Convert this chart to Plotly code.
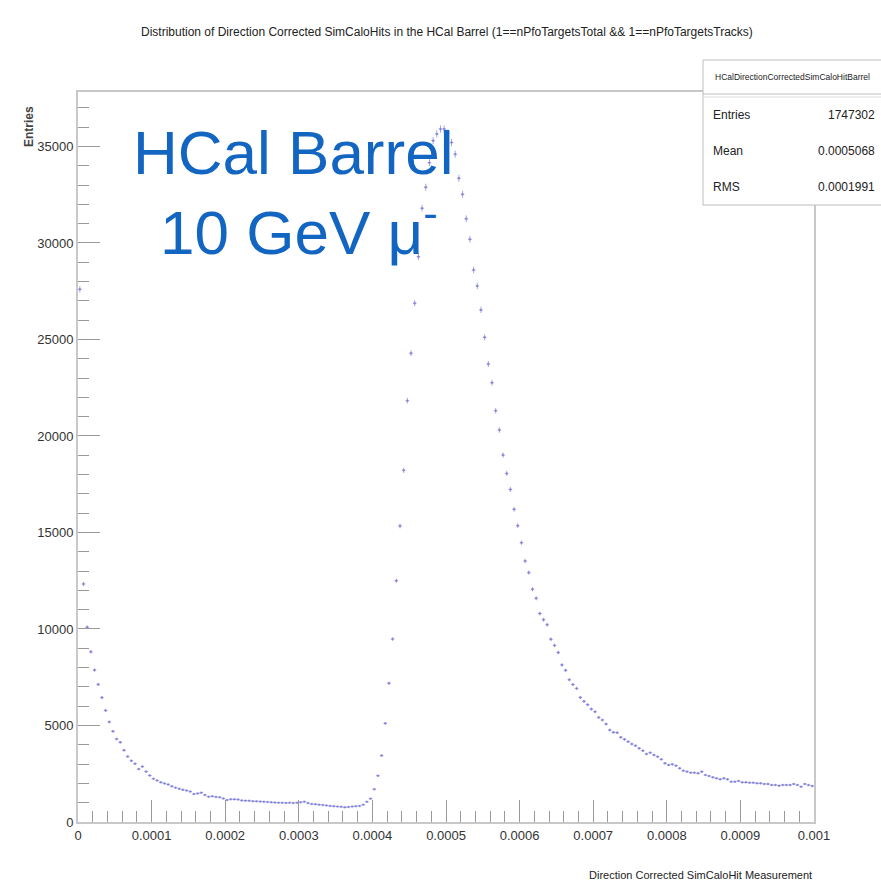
import numpy as np
import plotly.graph_objects as go

# ---------------- data ----------------
bin_low = 0.0
bin_high = 0.001
n_bins = 200

counts = [
    27600, 12330, 10090, 8815, 7870, 7130, 6445, 5780, 5185, 4700,
    4300, 4130, 3720, 3390, 3170, 3020, 2740, 2870, 2610, 2410,
    2240, 2150, 2055, 2000, 1945, 1850, 1780, 1720, 1670, 1630,
    1575, 1450, 1480, 1520, 1400, 1310, 1330, 1300, 1280, 1220,
    1140, 1180, 1175, 1160, 1120, 1105, 1100, 1080, 1070, 1060,
    1055, 1040, 1020, 1010, 1000, 995, 990, 1000, 985, 1000,
    1020, 1055, 980, 930, 920, 900, 880, 860, 830, 820,
    800, 790, 760, 780, 800, 820, 830, 900, 1050, 1210,
    1700, 2400, 3440, 5110, 7190, 9480, 12500, 15340, 18220, 21830,
    24290, 26880, 29290, 31800, 32890, 34160, 35300, 35650, 35900, 35900,
    35700, 35200, 34600, 33350, 32520, 31250, 30190, 28600, 27770, 26530,
    25110, 23730, 22760, 21310, 20310, 19010, 18060, 17230, 16200, 15350,
    14470, 13520, 12920, 12060, 11590, 10800, 10480, 10220, 9470, 9150,
    8780, 8140, 7860, 7370, 7120, 6920, 6455, 6250, 6080, 5850,
    5715, 5420, 5285, 5075, 4765, 4645, 4628, 4387, 4283, 4162,
    4041, 3955, 3817, 3696, 3523, 3593, 3471, 3385, 3247, 3040,
    2953, 2988, 2919, 2781, 2660, 2608, 2556, 2556, 2522, 2608,
    2435, 2383, 2314, 2262, 2210, 2262, 2210, 2089, 2089, 2124,
    2055, 2055, 2038, 2038, 2003, 2003, 1969, 1969, 1917, 1917,
    1883, 1917, 1917, 1917, 1969, 1917, 1831, 1969, 1917, 1865,
]
assert len(counts) == n_bins

x_tick_vals = [0, 0.0001, 0.0002, 0.0003, 0.0004, 0.0005, 0.0006, 0.0007, 0.0008, 0.0009, 0.001]
x_tick_text = ["0", "0.0001", "0.0002", "0.0003", "0.0004", "0.0005", "0.0006", "0.0007", "0.0008", "0.0009", "0.001"]
y_tick_vals = [0, 5000, 10000, 15000, 20000, 25000, 30000, 35000]
y_tick_text = ["0", "5000", "10000", "15000", "20000", "25000", "30000", "35000"]

title_text = "Distribution of Direction Corrected SimCaloHits in the HCal Barrel (1==nPfoTargetsTotal && 1==nPfoTargetsTracks)"
x_title = "Direction Corrected SimCaloHit Measurement"
y_title = "Entries"
stats_name = "HCalDirectionCorrectedSimCaloHitBarrel"
stats_labels = ["Entries", "Mean", "RMS"]
stats_values = ["1747302", "0.0005068", "0.0001991"]
label_line1 = "HCal Barrel"
label_line2 = "10 GeV μ<sup>-</sup>"

# ---------------- figure ----------------
bw = (bin_high - bin_low) / n_bins
centers = bin_low + bw * (np.arange(n_bins) + 0.5)

W_FIG, H_FIG = 881, 890
L, R, T, B = 78, 814, 92, 822
PW, PH = R - L, B - T


def px(x):
    return (x - L) / PW


def py(y):
    return (B - y) / PH


FONT = "Liberation Sans, Arial, Helvetica, sans-serif"
PTCOL = "rgba(120,120,215,0.65)"

fig = go.Figure()
fig.add_trace(go.Scatter(
    x=centers, y=counts, mode="markers",
    marker=dict(size=2.5, color=PTCOL),
    error_y=dict(type="sqrt", color=PTCOL, thickness=1, width=0),
    error_x=dict(type="constant", value=bw / 2, color=PTCOL, thickness=1, width=0),
    showlegend=False, hoverinfo="x+y",
))

axis_common = dict(
    showgrid=False, zeroline=False,
    showline=True, linecolor="#c8c8c8", linewidth=2, mirror=True,
    ticks="inside", ticklen=22, tickcolor="#9a9a9a", tickwidth=1,
    tickfont=dict(family=FONT, size=13, color="#333333"),
)

fig.update_xaxes(
    range=[bin_low, bin_high],
    tickvals=x_tick_vals, ticktext=x_tick_text,
    minor=dict(dtick=0.00002, ticklen=11, tickcolor="#9a9a9a", ticks="inside", showgrid=False),
    **axis_common,
)
fig.update_yaxes(
    range=[0, 37820],
    tickvals=y_tick_vals, ticktext=y_tick_text,
    minor=dict(dtick=1000, ticklen=11, tickcolor="#9a9a9a", ticks="inside", showgrid=False),
    **axis_common,
)

shapes = []
# stats box
shapes.append(dict(type="rect", xref="paper", yref="paper",
                   x0=px(703), x1=px(886), y0=py(205), y1=py(60),
                   line=dict(color="#bdbdbd", width=1), fillcolor="white", layer="above"))
shapes.append(dict(type="line", xref="paper", yref="paper",
                   x0=px(703), x1=px(886), y0=py(94), y1=py(94),
                   line=dict(color="#bdbdbd", width=1), layer="above"))
shapes.append(dict(type="line", xref="paper", yref="paper",
                   x0=px(703), x1=px(886), y0=py(97), y1=py(97),
                   line=dict(color="#dddddd", width=1), layer="above"))

annotations = []
annotations.append(dict(text=title_text, xref="paper", yref="paper", x=px(447), y=py(32),
                        xanchor="center", yanchor="middle", showarrow=False,
                        font=dict(family=FONT, size=12, color="#222222")))
annotations.append(dict(text=x_title, xref="paper", yref="paper", x=px(814), y=py(875),
                        xanchor="right", yanchor="middle", showarrow=False,
                        font=dict(family=FONT, size=11, color="#222222")))
annotations.append(dict(text="<b>" + y_title + "</b>", xref="paper", yref="paper", x=px(29), y=py(127),
                        xanchor="center", yanchor="middle", showarrow=False, textangle=-90,
                        font=dict(family=FONT, size=12, color="#444444")))
annotations.append(dict(text=stats_name, xref="paper", yref="paper", x=px(792), y=py(77),
                        xanchor="center", yanchor="middle", showarrow=False,
                        font=dict(family=FONT, size=8.5, color="#222222")))
row_y = [115, 151, 187]
for lab, val, yy in zip(stats_labels, stats_values, row_y):
    annotations.append(dict(text=lab, xref="paper", yref="paper", x=px(711), y=py(yy),
                            xanchor="left", yanchor="middle", showarrow=False,
                            font=dict(family=FONT, size=12, color="#222222")))
    annotations.append(dict(text=val, xref="paper", yref="paper", x=px(877), y=py(yy),
                            xanchor="right", yanchor="middle", showarrow=False,
                            font=dict(family=FONT, size=12, color="#222222")))

BLUE = "#1266c2"
annotations.append(dict(text=label_line1, xref="paper", yref="paper", x=px(293), y=py(152),
                        xanchor="center", yanchor="middle", showarrow=False,
                        font=dict(family=FONT, size=62, color=BLUE)))
annotations.append(dict(text=label_line2, xref="paper", yref="paper", x=px(299), y=py(228),
                        xanchor="center", yanchor="middle", showarrow=False,
                        font=dict(family=FONT, size=62, color=BLUE)))

fig.update_layout(
    width=W_FIG, height=H_FIG,
    margin=dict(l=L, r=W_FIG - R, t=T, b=H_FIG - B, autoexpand=False),
    paper_bgcolor="white", plot_bgcolor="white",
    shapes=shapes, annotations=annotations,
)

fig.write_html("out.html")
